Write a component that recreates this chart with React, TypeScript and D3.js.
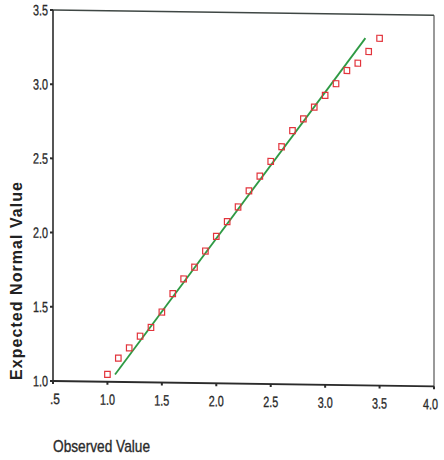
import React from "react";
import * as d3 from "d3";

const observed = [1.0, 1.1, 1.2, 1.3, 1.4, 1.5, 1.6, 1.7, 1.8, 1.9, 2.0, 2.1, 2.2, 2.3, 2.4, 2.5, 2.6, 2.7, 2.8, 2.9, 3.0, 3.1, 3.2, 3.3, 3.4, 3.5];
const expected = [1.05, 1.16, 1.23, 1.31, 1.37, 1.475, 1.6, 1.7, 1.78, 1.89, 1.99, 2.09, 2.19, 2.3, 2.4, 2.5, 2.6, 2.71, 2.79, 2.87, 2.95, 3.03, 3.12, 3.17, 3.25, 3.34];
const lineXs = [1.07, 3.37];
const lineYs = [1.05, 3.34];
const xTicks = [0.5, 1.0, 1.5, 2.0, 2.5, 3.0, 3.5, 4.0];
const xTickLabels = [".5", "1.0", "1.5", "2.0", "2.5", "3.0", "3.5", "4.0"];
const yTicks = [1.0, 1.5, 2.0, 2.5, 3.0, 3.5];
const yTickLabels = ["1.0", "1.5", "2.0", "2.5", "3.0", "3.5"];
const xTitle = "Observed Value";
const yTitle = "Expected Normal Value";

const W = 444;
const H = 460;
const left = 53;
const right = 434;
const top = 10;
const bottom = 381;

export default function App() {
  const x = d3.scaleLinear().domain([0.5, 4.0]).range([left, right]);
  const y = d3.scaleLinear().domain([1.0, 3.5]).range([bottom, top]);
  const line = d3
    .line<number>()
    .x((d) => x(d))
    .y((_, i) => y(lineYs[i]));
  const font = "'Liberation Sans', Arial, sans-serif";
  const axisColor = "#2b2b2b";
  const skew = `translate(${left},${bottom}) skewY(0.8) translate(${-left},${-bottom})`;
  const last = xTicks.length - 1;
  return (
    <svg
      width={W}
      height={H}
      style={{ position: "absolute", left: 0, top: 0, background: "#fff" }}
      fontFamily={font}
    >
      <g transform={skew}>
        {/* frame */}
        <line x1={left} x2={right} y1={top} y2={top} stroke="#3f4744" strokeWidth={1.5} />
        <line x1={right} x2={right} y1={top} y2={bottom} stroke="#555" strokeWidth={1.2} />
        <line x1={left} x2={left} y1={top} y2={bottom} stroke={axisColor} strokeWidth={1.6} />
        <line x1={left} x2={right} y1={bottom} y2={bottom} stroke={axisColor} strokeWidth={1.8} />
        {/* y ticks */}
        {yTicks.map((t, i) => (
          <g key={"y" + i}>
            <line x1={left - 3} x2={left} y1={y(t)} y2={y(t)} stroke={axisColor} strokeWidth={2} />
            <text
              x={48}
              y={y(t) + 5.5}
              textAnchor="end"
              fontSize={15}
              fill="#2a2a2a"
              stroke="#2a2a2a"
              strokeWidth={0.35}
              textLength={15}
              lengthAdjust="spacingAndGlyphs"
            >
              {yTickLabels[i]}
            </text>
          </g>
        ))}
        {/* x ticks */}
        {xTicks.map((t, i) => (
          <g key={"x" + i}>
            <line x1={x(t)} x2={x(t)} y1={bottom} y2={bottom + 3} stroke={axisColor} strokeWidth={2} />
            <text
              x={i === 0 ? x(t) + 2 : i === last ? 438 : x(t)}
              y={404}
              textAnchor={i === last ? "end" : "middle"}
              fontSize={15}
              fill="#2a2a2a"
              stroke="#2a2a2a"
              strokeWidth={0.35}
              textLength={i === 0 ? 10 : 15}
              lengthAdjust="spacingAndGlyphs"
            >
              {xTickLabels[i]}
            </text>
          </g>
        ))}
        {/* reference line */}
        <path d={line(lineXs) || ""} fill="none" stroke="#2e9a44" strokeWidth={1.8} />
        {/* points */}
        {observed.map((o, i) => (
          <rect
            key={"p" + i}
            x={x(o) - 2.75}
            y={y(expected[i]) - 3}
            width={5.5}
            height={6}
            fill="none"
            stroke="#e2343c"
            strokeWidth={1.2}
          />
        ))}
      </g>
      <text
        x={53}
        y={452}
        fontSize={17}
        fill="#2a2a2a"
        stroke="#2a2a2a"
        strokeWidth={0.35}
        textLength={97}
        lengthAdjust="spacingAndGlyphs"
      >
        {xTitle}
      </text>
      <text
        transform="translate(22,281) rotate(-90)"
        textAnchor="middle"
        fontSize={16}
        fontWeight="bold"
        fill="#222"
        textLength={198}
        lengthAdjust="spacing"
      >
        {yTitle}
      </text>
    </svg>
  );
}
